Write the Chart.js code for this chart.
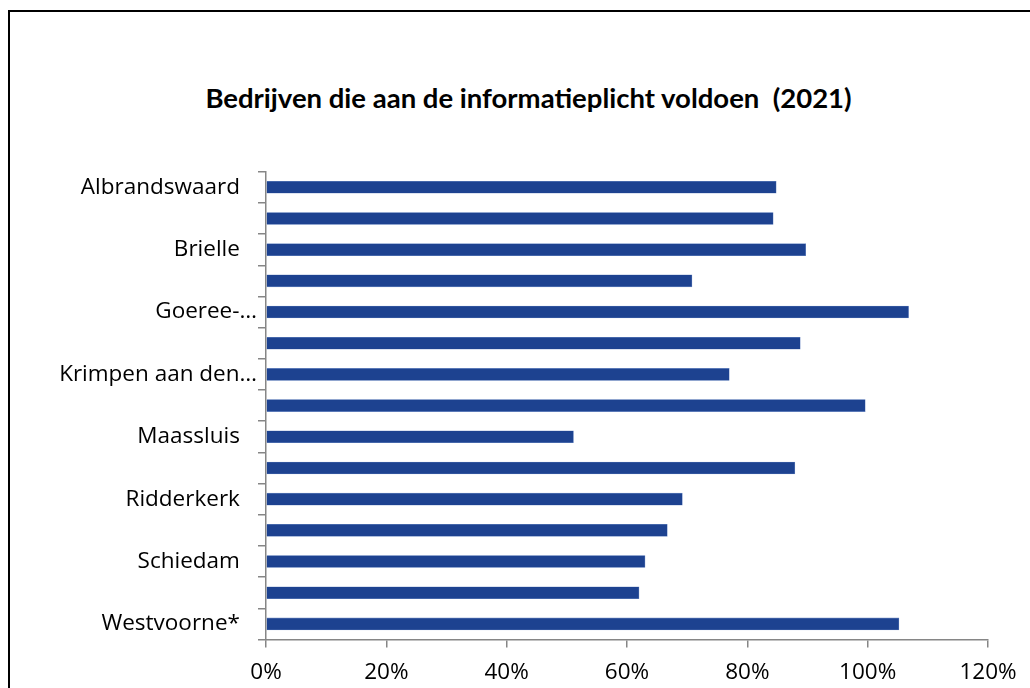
<!DOCTYPE html>
<html>
<head>
<meta charset="utf-8">
<script src="https://cdn.jsdelivr.net/npm/chart.js@4"></script>
<style>
  html, body { margin: 0; padding: 0; background: #fff; }
  body { width: 1030px; height: 688px; position: relative; overflow: hidden; }
  .frame {
    position: absolute; left: 8px; top: 10px;
    width: 1100px; height: 800px;
    border-left: 2px solid #000; border-top: 2px solid #000;
  }
  .title {
    position: absolute; left: 0; top: 80.5px; width: 1057px;
    text-align: center; white-space: pre;
    font: bold 27.5px/33px Lato, "Open Sans", sans-serif; color: #000;
  }
  .wrap { position: absolute; left: 0; top: 0; width: 1030px; height: 688px; }
</style>
</head>
<body>
<div class="frame"></div>
<div class="title" id="title"></div>
<div class="wrap"><canvas id="chart"></canvas></div>
<script>
const chartTitle = 'Bedrijven die aan de informatieplicht voldoen  (2021)';
const gemeenten = [
  'Albrandswaard', 'Barendrecht', 'Brielle', 'Capelle aan den IJssel',
  'Goeree-Overflakkee', 'Hellevoetsluis', 'Krimpen aan den IJssel', 'Lansingerland',
  'Maassluis', 'Nissewaard', 'Ridderkerk', 'Rotterdam',
  'Schiedam', 'Vlaardingen', 'Westvoorne*'
];
// labels as they appear on the axis (every other one, long ones cut off)
const shownLabels = [
  'Albrandswaard', '', 'Brielle', '', 'Goeree-…', '', 'Krimpen aan den…', '',
  'Maassluis', '', 'Ridderkerk', '', 'Schiedam', '', 'Westvoorne*'
];
const voldoen = [84.8, 84.3, 89.7, 70.8, 106.8, 88.8, 77.0, 99.6, 51.1, 87.9, 69.2, 66.7, 63.0, 62.0, 105.2];
const xTicks = [0, 20, 40, 60, 80, 100, 120];

const LABEL_FONT = '"Open Sans", sans-serif';
const AXIS = '#868686';

document.getElementById('title').textContent = chartTitle;

new Chart(document.getElementById('chart'), {
  type: 'bar',
  data: {
    labels: gemeenten,
    datasets: [{
      label: 'Bedrijven die aan de informatieplicht voldoen',
      data: voldoen,
      backgroundColor: '#1d4290',
      borderColor: '#6f8cc4',
      borderWidth: 0.6,
      barThickness: 12
    }]
  },
  options: {
    indexAxis: 'y',
    responsive: true,
    maintainAspectRatio: false,
    animation: false,
    layout: { padding: { top: 171.7, right: 42, bottom: 0, left: 0 } },
    plugins: {
      legend: { display: false },
      tooltip: { enabled: false },
      title: { display: false }
    },
    scales: {
      x: {
        min: 0,
        max: 120,
        afterBuildTicks: axis => { axis.ticks = xTicks.map(v => ({ value: v })); },
        afterFit: axis => { axis.height = 48.5; },
        grid: { drawOnChartArea: false, drawTicks: true, tickLength: 8, color: AXIS, lineWidth: 1.5 },
        border: { display: true, color: AXIS, width: 1.5 },
        ticks: {
          color: '#000',
          padding: 12,
          font: { family: LABEL_FONT, size: 22.5 },
          callback: v => v + '%'
        }
      },
      y: {
        afterFit: axis => { axis.width = 266; },
        grid: { drawOnChartArea: false, drawTicks: true, tickLength: 8, color: AXIS, lineWidth: 1.5, offset: true },
        border: { display: true, color: AXIS, width: 1.5 },
        ticks: {
          color: '#000',
          padding: 1,
          autoSkip: false,
          font: { family: LABEL_FONT, size: 22.5 },
          callback: (v, i) => {
            const s = shownLabels[i];
            if (!s) return '';
            return s.endsWith('…') ? s : s + '\u2002 ';
          }
        }
      }
    }
  }
});
</script>
</body>
</html>
